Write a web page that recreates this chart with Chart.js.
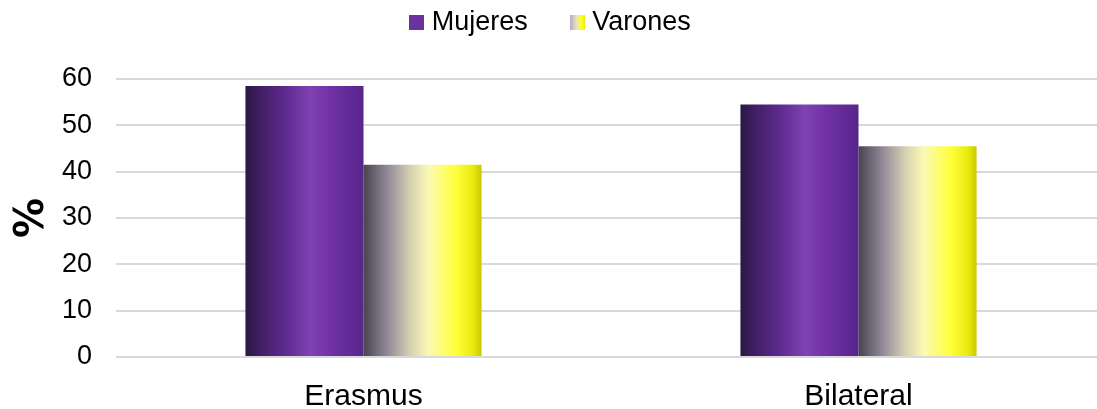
<!DOCTYPE html>
<html>
<head>
<meta charset="utf-8">
<script src="https://cdn.jsdelivr.net/npm/chart.js@4"></script>
<style>
  html, body { margin: 0; padding: 0; background: #fff; overflow: hidden; }
  #wrap { width: 1106px; height: 409px; }
</style>
</head>
<body>
<div id="wrap"><canvas id="myChart" width="1106" height="409"></canvas></div>
<script>
var categorie = ['Erasmus', 'Bilateral'];
var serieNomi = ['Mujeres', 'Varones'];
var valoriMujeres = [58.5, 54.5];
var valoriVarones = [41.5, 45.5];
var tickY = [0, 10, 20, 30, 40, 50, 60];

var catPct = 0.477;

// colour stops across each bar (left -> right)
var stopsMujeres = [[0, '#2a1842'], [0.15, '#45206a'], [0.35, '#5f2c90'], [0.55, '#8042b2'], [0.75, '#6e30a2'], [1, '#56258a']];
var stopsVarones = [[0, '#48434e'], [0.2, '#908898'], [0.4, '#d6d2b2'], [0.55, '#fbf9b4'], [0.78, '#ffff3c'], [0.92, '#ecec10'], [1, '#c9c900']];

function gradiente(c, x0, w, stops) {
  var g = c.createLinearGradient(x0, 0, x0 + w, 0);
  for (var i = 0; i < stops.length; i++) g.addColorStop(stops[i][0], stops[i][1]);
  return g;
}

function coloreBarra(stops, idx) {
  return function(ctx) {
    var chart = ctx.chart;
    if (!chart.chartArea || ctx.dataIndex === undefined) return stops[3][1];
    var sx = chart.scales.x;
    var catW = sx.width / categorie.length;
    var w = catW * catPct / 2;
    var centro = sx.getPixelForValue(ctx.dataIndex);
    var left = idx === 0 ? centro - w : centro;
    return gradiente(chart.ctx, left, w, stops);
  };
}

function icona(stops) {
  var cv = document.createElement('canvas');
  cv.width = 15; cv.height = 15;
  var c = cv.getContext('2d');
  c.fillStyle = gradiente(c, 0, 15, stops);
  c.fillRect(0, 0, 15, 15);
  return cv;
}
var iconaMujeres = icona([[0, '#6a34a0'], [1, '#6a34a0']]);
var iconaVarones = icona([[0, '#b4a4d0'], [0.45, '#e8e4b8'], [0.75, '#ffff30'], [1, '#f0f000']]);

// legend taller so the plot starts lower
var altezzaLegenda = {
  id: 'altezzaLegenda',
  afterInit: function(chart) {
    var leg = chart.legend;
    var fitOrig = leg.fit;
    leg.fit = function() {
      fitOrig.call(this);
      this.height = 118;
    };
  }
};

var ctx = document.getElementById('myChart');
var chart = new Chart(ctx, {
  type: 'bar',
  data: {
    labels: categorie,
    datasets: [{
      label: serieNomi[0],
      data: valoriMujeres,
      backgroundColor: coloreBarra(stopsMujeres, 0),
      categoryPercentage: catPct,
      barPercentage: 1
    }, {
      label: serieNomi[1],
      data: valoriVarones,
      backgroundColor: coloreBarra(stopsVarones, 1),
      categoryPercentage: catPct,
      barPercentage: 1
    }]
  },
  plugins: [altezzaLegenda],
  options: {
    responsive: false,
    animation: false,
    layout: { padding: { top: -39, left: 0, right: 0, bottom: 0 } },
    plugins: {
      tooltip: { enabled: false },
      legend: {
        position: 'top',
        labels: {
          font: { family: 'Liberation Sans, Arial', size: 27 },
          color: '#000',
          usePointStyle: true,
          pointStyleWidth: 3,
          boxHeight: 15,
          padding: 48,
          generateLabels: function() {
            return [
              { text: serieNomi[0], pointStyle: iconaMujeres, fillStyle: '#6a34a0', strokeStyle: 'transparent', lineWidth: 0, datasetIndex: 0 },
              { text: serieNomi[1], pointStyle: iconaVarones, fillStyle: '#ffff30', strokeStyle: 'transparent', lineWidth: 0, datasetIndex: 1 }
            ];
          }
        }
      }
    },
    scales: {
      x: {
        grid: { display: false },
        border: { display: false },
        ticks: { color: '#000', font: { family: 'Liberation Sans, Arial', size: 30 }, padding: 14 },
        afterFit: function(s) { s.height = 52; }
      },
      y: {
        min: 0,
        max: 60,
        afterBuildTicks: function(s) { s.ticks = tickY.map(function(v) { return { value: v }; }); },
        grid: { color: '#d9d9d9', lineWidth: 2, drawTicks: false },
        border: { display: false },
        ticks: { color: '#000', font: { family: 'Liberation Sans, Arial', size: 27 }, padding: 24 },
        title: { display: true, text: '%', color: '#000', font: { family: 'DejaVu Sans', size: 40, weight: 'bold' }, padding: { top: 9, bottom: 0 } },
        afterFit: function(s) { s.width = 116; }
      }
    }
  }
});
</script>
</body>
</html>
